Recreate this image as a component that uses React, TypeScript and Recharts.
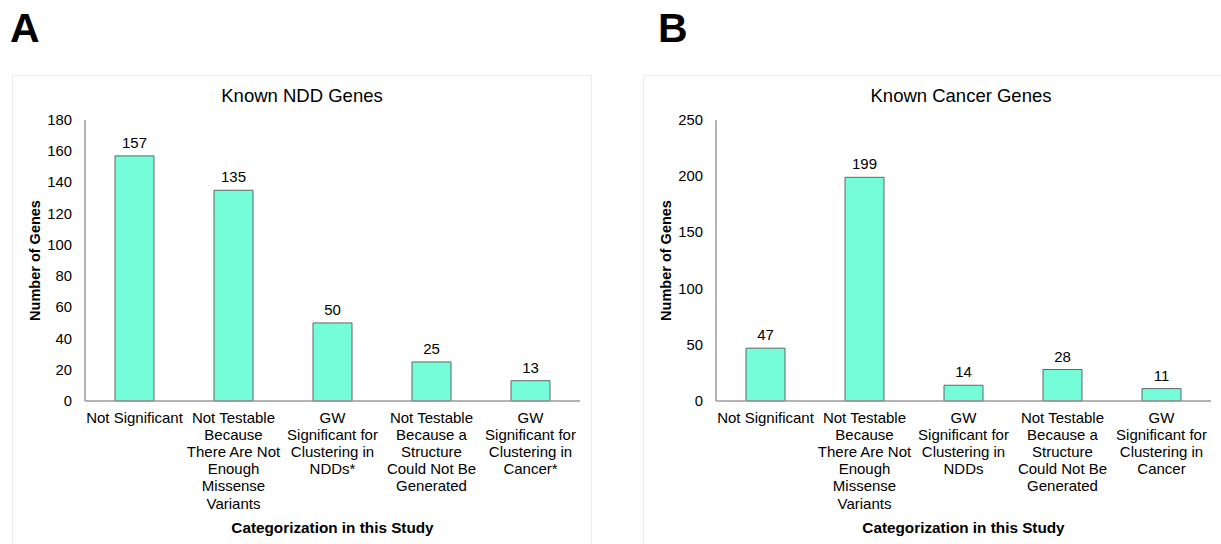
import React from "react";
import { BarChart, Bar, XAxis, YAxis, LabelList, Label } from "recharts";

const categoryKeys = ["c1", "c2", "c3", "c4", "c5"];
const labelLinesA = [
  ["Not Significant"],
  ["Not Testable", "Because", "There Are Not", "Enough", "Missense", "Variants"],
  ["GW", "Significant for", "Clustering in", "NDDs*"],
  ["Not Testable", "Because a", "Structure", "Could Not Be", "Generated"],
  ["GW", "Significant for", "Clustering in", "Cancer*"],
];
const labelLinesB = [
  ["Not Significant"],
  ["Not Testable", "Because", "There Are Not", "Enough", "Missense", "Variants"],
  ["GW", "Significant for", "Clustering in", "NDDs"],
  ["Not Testable", "Because a", "Structure", "Could Not Be", "Generated"],
  ["GW", "Significant for", "Clustering in", "Cancer"],
];
const valuesA = [157, 135, 50, 25, 13];
const valuesB = [47, 199, 14, 28, 11];
const ticksA = [0, 20, 40, 60, 80, 100, 120, 140, 160, 180];
const ticksB = [0, 50, 100, 150, 200, 250];

const FONT = "'Liberation Sans', Arial, Helvetica, sans-serif";
const BAR_FILL = "#74FDD8";
const BAR_STROKE = "#5f6664";
const AXIS = "#9a9a9a";

function makeData(values: number[]) {
  return categoryKeys.map((k, i) => ({ key: k, value: values[i] }));
}

function CatTick(props: any) {
  const { x, y, payload, lines } = props;
  const l: string[] = lines[payload.index] || [];
  return (
    <text x={x} y={y} textAnchor="middle" fontFamily={FONT} fontSize={15} fill="#000">
      {l.map((s, i) => (
        <tspan key={i} x={x} dy={i === 0 ? 22 : 17.1}>
          {s}
        </tspan>
      ))}
    </text>
  );
}

function YTick(props: any) {
  const { x, y, payload } = props;
  return (
    <text x={x} y={y} dy={5} textAnchor="end" fontFamily={FONT} fontSize={14.8} fill="#000">
      {payload.value}
    </text>
  );
}

function YTitle(props: any) {
  const vb = props.viewBox;
  const cx = vb.x + 10;
  const cy = vb.y + vb.height / 2;
  return (
    <text
      x={cx}
      y={cy}
      transform={`rotate(-90 ${cx} ${cy})`}
      textAnchor="middle"
      dominantBaseline="central"
      fontFamily={FONT}
      fontSize={14.5}
      fontWeight="bold"
      fill="#000"
    >
      Number of Genes
    </text>
  );
}

function XTitle(props: any) {
  const vb = props.viewBox;
  const cx = vb.x + vb.width / 2;
  const cy = vb.y + 126;
  return (
    <text x={cx} y={cy} textAnchor="middle" dominantBaseline="central" fontFamily={FONT} fontSize={15.3} fontWeight="bold" fill="#000">
      Categorization in this Study
    </text>
  );
}

function Panel({ values, ticks, lines, title, letter, left, titleX, letterX }: any) {
  const data = makeData(values);
  const max = ticks[ticks.length - 1];
  return (
    <div style={{ position: "absolute", left, top: 0, width: 610, height: 544 }}>
      <div
        style={{
          position: "absolute",
          left: 12,
          top: 75,
          width: 580,
          height: 480,
          border: "1px solid #ececec",
          boxSizing: "border-box",
        }}
      />
      <div
        style={{
          position: "absolute",
          left: letterX,
          top: 4,
          fontFamily: FONT,
          fontWeight: "bold",
          fontSize: 41,
          lineHeight: "48px",
          color: "#000",
        }}
      >
        {letter}
      </div>
      <div
        style={{
          position: "absolute",
          left: titleX - 150,
          width: 300,
          top: 84,
          textAlign: "center",
          fontFamily: FONT,
          fontSize: 18.5,
          lineHeight: "24px",
          color: "#000",
        }}
      >
        {title}
      </div>
      <div style={{ position: "absolute", left: 0, top: 0 }}>
        <BarChart
          width={610}
          height={544}
          data={data}
          margin={{ top: 120, right: 30, bottom: 33, left: 25 }}
          barCategoryGap="30%"
        >
          <XAxis
            dataKey="key"
            axisLine={{ stroke: AXIS, strokeWidth: 1.5 }}
            tickLine={false}
            tickSize={0}
            tickMargin={0}
            height={110}
            interval={0}
            tick={<CatTick lines={lines} />}
          >
            <Label content={<XTitle />} />
          </XAxis>
          <YAxis
            width={60}
            domain={[0, max]}
            ticks={ticks}
            interval={0}
            axisLine={{ stroke: AXIS, strokeWidth: 1.5 }}
            tickLine={false}
            tickSize={6}
            tickMargin={7}
            tick={<YTick />}
          >
            <Label content={<YTitle />} />
          </YAxis>
          <Bar dataKey="value" fill={BAR_FILL} stroke={BAR_STROKE} strokeWidth={1} barSize={39} isAnimationActive={false}>
            <LabelList dataKey="value" position="top" offset={8} fontFamily={FONT} fontSize={15} fill="#000" />
          </Bar>
        </BarChart>
      </div>
    </div>
  );
}

export default function App() {
  return (
    <div style={{ position: "absolute", left: 0, top: 0, width: 1221, height: 544, background: "#fff", overflow: "hidden" }}>
      <Panel values={valuesA} ticks={ticksA} lines={labelLinesA} title="Known NDD Genes" letter="A" left={0} titleX={302} letterX={10} />
      <Panel values={valuesB} ticks={ticksB} lines={labelLinesB} title="Known Cancer Genes" letter="B" left={631} titleX={330} letterX={27} />
    </div>
  );
}
